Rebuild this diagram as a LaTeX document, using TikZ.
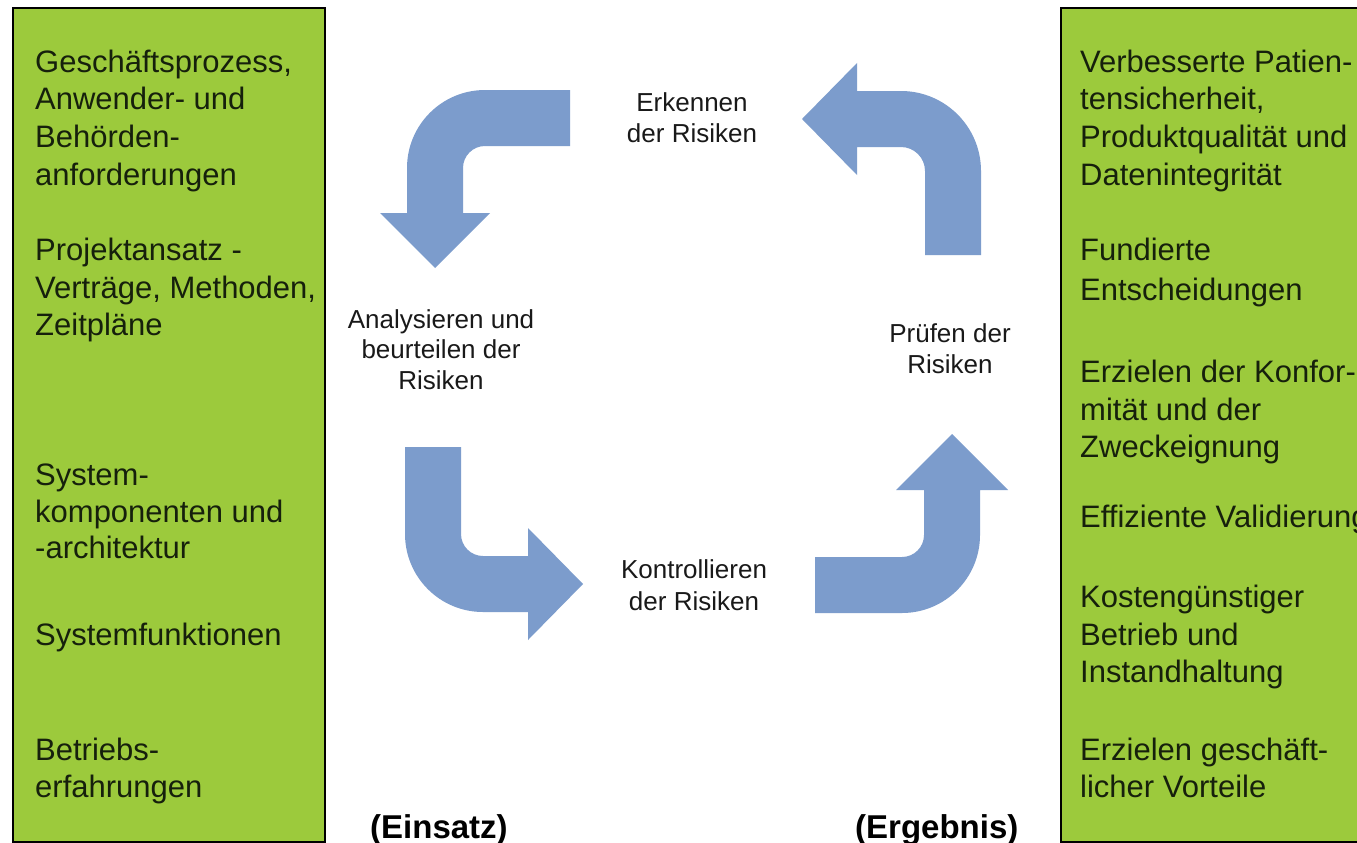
\documentclass[tikz,border=0pt]{standalone}
\usepackage{fontspec}
\setmainfont{Liberation Sans}
\definecolor{boxgreen}{RGB}{156,202,60}
\definecolor{arrowblue}{RGB}{124,156,204}
\definecolor{boxtext}{RGB}{22,32,12}
\begin{document}
\begin{tikzpicture}[x=1pt,y=-1pt,
  panel/.style={draw=black, line width=2pt, fill=boxgreen},
  turnarrow/.style={fill=arrowblue, draw=none},
  item/.style={anchor=base west, inner sep=0pt, text=boxtext, font=\fontsize{31}{37}\selectfont},
  stage/.style={anchor=base, inner sep=0pt, text=black!90, font=\fontsize{26}{30}\selectfont},
  role/.style={anchor=base west, inner sep=0pt, text=black, font=\bfseries\fontsize{33}{40}\selectfont}]
\useasboundingbox (0,0) rectangle (1357,843);
\clip (0,0) rectangle (1357,843);
\fill[white] (0,0) rectangle (1357,843);

% input and output panels
\draw[panel] (13,8) rectangle (325,842);
\draw[panel] (1061,8) rectangle (1380,842);

% inputs
\node[item] (in1)  at (35,72)  {Geschäftsprozess,};
\node[item] (in2)  at (35,110) {Anwender- und};
\node[item] (in3)  at (35,147) {Behörden-};
\node[item] (in4)  at (35,185) {anforderungen};
\node[item] (in5)  at (35,260) {Projektansatz -};
\node[item] (in6)  at (35,298) {Verträge, Methoden,};
\node[item] (in7)  at (35,335) {Zeitpläne};
\node[item] (in8)  at (35,485) {System-};
\node[item] (in9)  at (35,522) {komponenten und};
\node[item] (in10) at (35,558) {-architektur};
\node[item] (in11) at (35,645) {Systemfunktionen};
\node[item] (in12) at (35,760) {Betriebs-};
\node[item] (in13) at (35,797) {erfahrungen};

% outputs
\node[item] (out1)  at (1080,72)  {Verbesserte Patien-};
\node[item] (out2)  at (1080,110) {tensicherheit,};
\node[item] (out3)  at (1080,147) {Produktqualität und};
\node[item] (out4)  at (1080,185) {Datenintegrität};
\node[item] (out5)  at (1080,260) {Fundierte};
\node[item] (out6)  at (1080,300) {Entscheidungen};
\node[item] (out7)  at (1080,382) {Erzielen der Konfor-};
\node[item] (out8)  at (1080,420) {mität und der};
\node[item] (out9)  at (1080,457) {Zweckeignung};
\node[item] (out10) at (1080,527) {Effiziente Validierung};
\node[item] (out11) at (1080,607) {Kostengünstiger};
\node[item] (out12) at (1080,645) {Betrieb und};
\node[item] (out13) at (1080,682) {Instandhaltung};
\node[item] (out14) at (1080,760) {Erzielen geschäft-};
\node[item] (out15) at (1080,797) {licher Vorteile};

% cycle of curved arrows
\fill[turnarrow] (570,90) -- (485,90) arc[start angle=270,end angle=180,radius=78]
  -- (407,213) -- (380,213) -- (435,268) -- (490,213) -- (463,213)
  -- (463,168) arc[start angle=180,end angle=270,radius=22] -- (570,146) -- cycle;
\fill[turnarrow] (981,255) -- (981,171) arc[start angle=0,end angle=-90,radius=80]
  -- (857,91) -- (857,63) -- (802,119) -- (857,175) -- (857,147)
  -- (901,147) arc[start angle=270,end angle=360,radius=24] -- (925,255) -- cycle;
\fill[turnarrow] (405,447) -- (405,534) arc[start angle=180,end angle=90,radius=78]
  -- (528,612) -- (528,640) -- (583,584) -- (528,528) -- (528,556)
  -- (483,556) arc[start angle=90,end angle=180,radius=22] -- (461,447) -- cycle;
\fill[turnarrow] (815,557) -- (815,613) -- (902,613) arc[start angle=90,end angle=0,radius=78]
  -- (980,490) -- (1008,490) -- (952,434) -- (896,490) -- (924,490)
  -- (924,535) arc[start angle=0,end angle=90,radius=22] -- cycle;

% stage labels
\node[stage] (s1a) at (692,111) {Erkennen};
\node[stage] (s1b) at (692,142) {der Risiken};
\node[stage] (s2a) at (441,328) {Analysieren und};
\node[stage] (s2b) at (441,358) {beurteilen der};
\node[stage] (s2c) at (441,389) {Risiken};
\node[stage] (s3a) at (694,578) {Kontrollieren};
\node[stage] (s3b) at (694,610) {der Risiken};
\node[stage] (s4a) at (950,342) {Prüfen der};
\node[stage] (s4b) at (950,373) {Risiken};

% column captions
\node[role] (einsatz) at (370,838) {(Einsatz)};
\node[role] (ergebnis) at (855,838) {(Ergebnis)};
\end{tikzpicture}
\end{document}
